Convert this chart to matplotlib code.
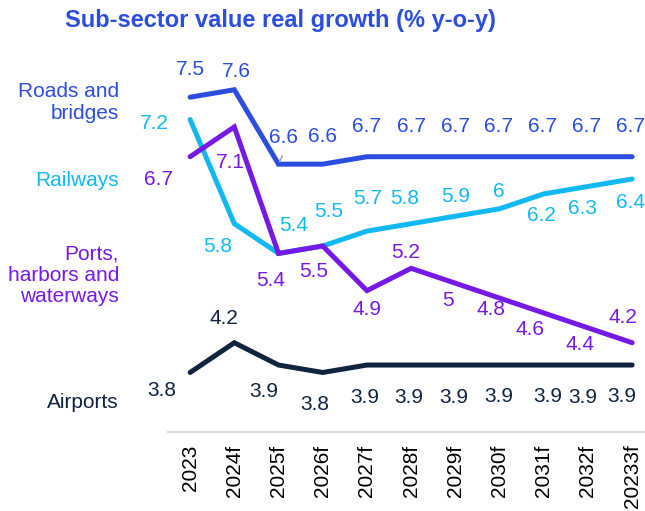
import matplotlib.pyplot as plt

plt.rcParams['font.family'] = ['Liberation Sans', 'DejaVu Sans']

years = ['2023', '2024f', '2025f', '2026f', '2027f', '2028f', '2029f',
         '2030f', '2031f', '2032f', '20233f']

roads = [7.5, 7.6, 6.6, 6.6, 6.7, 6.7, 6.7, 6.7, 6.7, 6.7, 6.7]
railways = [7.2, 5.8, 5.4, 5.5, 5.7, 5.8, 5.9, 6, 6.2, 6.3, 6.4]
ports = [6.7, 7.1, 5.4, 5.5, 4.9, 5.2, 5, 4.8, 4.6, 4.4, 4.2]
airports = [3.8, 4.2, 3.9, 3.8, 3.9, 3.9, 3.9, 3.9, 3.9, 3.9, 3.9]

# label offsets in pixels (dx, dy) from each point
roads_off = [(0, 28), (2, 18), (5, 27), (0, 28), (0, 30), (0, 30), (0, 30),
             (-1, 30), (-1, 30), (-1, 30), (-2, 30)]
rail_off = [(-36, -4), (-17, -23), (15, 28), (6, 34), (1, 33), (-6, 25),
            (0, 20), (-1, 17), (-2, -22), (-5, -22), (-2, -23)]
ports_off = [(-32, -23), (-4, -36), (-8, -27), (-9, -26), (0, -19), (-6, 16),
             (-7, -17), (-9, -11), (-14, -17), (-8, -17), (-9, 25)]
air_off = [(-28, -18), (-10, 24), (-15, -26), (-8, -32), (-2, -32), (-2, -32),
           (-2, -32), (-1, -31), (4, -31), (-5, -32), (-10, -31)]

c_roads = '#2B4DE0'
c_rail = '#12B8F0'
c_ports = '#7419E6'
c_air = '#10233F'

fig = plt.figure(figsize=(6.45, 5.11), dpi=100)
ax = fig.add_axes([0.2605, 0.1546, 0.7538, 0.728])

x = list(range(len(years)))
series = [(roads, c_roads, roads_off), (railways, c_rail, rail_off),
          (ports, c_ports, ports_off), (airports, c_air, air_off)]

for vals, col, offs in series:
    ax.plot(x, vals, color=col, lw=3.6, solid_capstyle='round',
            solid_joinstyle='miter', zorder=3)
    for i, v in enumerate(vals):
        ax.annotate(f'{v:g}', xy=(i, v), xytext=offs[i],
                    textcoords='offset pixels', ha='center', va='center',
                    fontsize=15, color=col)

# small leader line on the first 6.6 label
ax.annotate('', xy=(2, roads[2]), xytext=(5, 11), textcoords='offset pixels',
            arrowprops=dict(arrowstyle='-', color='#A6A6A6', lw=1.2))

ax.set_xlim(-0.5, 10.5)
ax.set_ylim(3, 8)
ax.set_xticks(x)
ax.set_xticklabels(years, rotation=90, fontsize=15, color='#000000')
ax.tick_params(axis='x', length=0, pad=9)
ax.set_yticks([])
for s in ['left', 'right', 'top']:
    ax.spines[s].set_visible(False)
ax.spines['bottom'].set_color('#D9D9D9')
ax.spines['bottom'].set_linewidth(1.6)

# series names on the left
fig.text(119 / 645, 1 - 102.5 / 511, 'Roads and\nbridges', ha='right',
         va='center', fontsize=15, color=c_roads, linespacing=1.15)
fig.text(119 / 645, 1 - 180 / 511, 'Railways', ha='right', va='center',
         fontsize=15, color=c_rail)
fig.text(119 / 645, 1 - 275 / 511, 'Ports,\nharbors and\nwaterways',
         ha='right', va='center', fontsize=15, color=c_ports, linespacing=1.15)
fig.text(119 / 645, 1 - 402 / 511, 'Airports', ha='right', va='center',
         fontsize=15, color=c_air)

fig.text(280 / 645, 1 - 21 / 511, 'Sub-sector value real growth (% y-o-y)',
         ha='center', va='center', fontsize=17, fontweight='bold',
         color=c_roads)

fig.savefig('out.png', dpi=100)
